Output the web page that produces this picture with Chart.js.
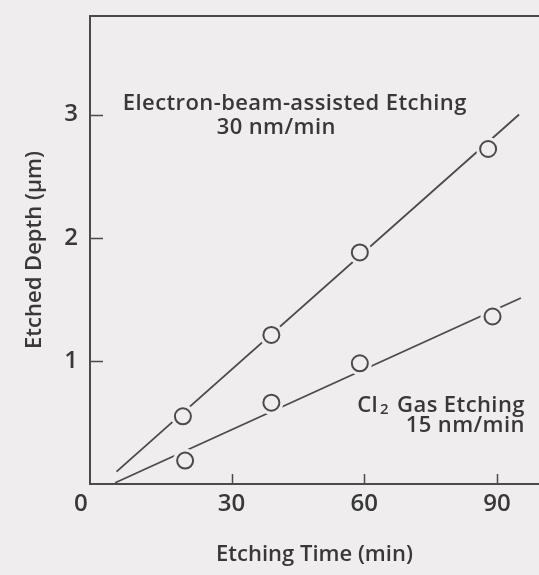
<!DOCTYPE html>
<html>
<head>
<meta charset="utf-8">
<script src="https://cdn.jsdelivr.net/npm/chart.js@4"></script>
<style>
  html, body { margin: 0; padding: 0; background: #efeded; }
  #wrap { width: 539px; height: 575px; }
</style>
</head>
<body>
<div id="wrap"><canvas id="etchChart" width="539" height="575"></canvas></div>
<script>
// Etched depth vs etching time — e-beam-assisted vs plain Cl2 gas etching

const ebeamTime  = [19, 39, 59, 88];
const ebeamDepth = [0.55, 1.21, 1.88, 2.72];
const cl2Time    = [19.5, 39, 59, 89];
const cl2Depth   = [0.19, 0.66, 0.98, 1.36];

// fitted lines, as drawn (end points)
const ebeamFitTime  = [4, 95];
const ebeamFitDepth = [0.1, 3.0];
const cl2FitTime    = [3.7, 95.4];
const cl2FitDepth   = [0.01, 1.51];

const xTicks = [30, 60, 90];
const yTicks = [1, 2, 3];

const ebeamLabel = ["Electron-beam-assisted Etching", "30 nm/min"];
const cl2Label   = ["Cl", "2", " Gas Etching", "15 nm/min"];

const BG = "#efeded";
const INK = "#4a4a4a";
const TEXT = "#383838";
const FONT = "'Open Sans', sans-serif";

const pts = (xs, ys) => xs.map((x, i) => ({ x, y: ys[i] }));
const noPad = s => { s.paddingLeft = 0; s.paddingRight = 0; s.paddingTop = 0; s.paddingBottom = 0; };

// short tick marks pointing into the plot, the lone "0" and the two labels
const paperMarks = {
  id: "paperMarks",
  afterDatasetsDraw(chart) {
    const { ctx, chartArea: { left, bottom }, scales: { x, y } } = chart;
    ctx.save();
    ctx.strokeStyle = INK;
    ctx.lineWidth = 1.5;
    ctx.beginPath();
    yTicks.forEach(v => {
      const py = Math.round(y.getPixelForValue(v)) + 0.5;
      ctx.moveTo(left, py);
      ctx.lineTo(left + 13, py);
    });
    xTicks.forEach(v => {
      const px = Math.round(x.getPixelForValue(v)) + 0.5;
      ctx.moveTo(px, bottom);
      ctx.lineTo(px, bottom - 10);
    });
    ctx.stroke();

    ctx.fillStyle = TEXT;
    ctx.font = "600 24px " + FONT;
    ctx.textAlign = "center";
    ctx.textBaseline = "middle";
    ctx.fillText("0", x.getPixelForValue(0) - 18, y.getPixelForValue(0) + 20);

    const big = "600 22px " + FONT;
    const sub = "600 15px " + FONT;
    ctx.letterSpacing = "0.4px";
    ctx.font = big;
    ctx.textBaseline = "alphabetic";
    ctx.fillText(ebeamLabel[0], x.getPixelForValue(44.3), y.getPixelForValue(3.04));
    ctx.fillText(ebeamLabel[1], x.getPixelForValue(40.1), y.getPixelForValue(2.84));

    // Cl2 label, right aligned, with a subscript 2
    const rx = x.getPixelForValue(96.3);
    const by = y.getPixelForValue(0.587);
    ctx.textAlign = "left";
    const wCl = ctx.measureText(cl2Label[0]).width;
    const wRest = ctx.measureText(cl2Label[2]).width;
    ctx.font = sub;
    const wSub = ctx.measureText(cl2Label[1]).width;
    const gapIn = 2, gapOut = 2;
    let cx = rx - (wCl + gapIn + wSub + gapOut + wRest);
    ctx.font = big;
    ctx.fillText(cl2Label[0], cx, by);
    cx += wCl + gapIn;
    ctx.font = sub;
    ctx.fillText(cl2Label[1], cx, by + 2);
    cx += wSub + gapOut;
    ctx.font = big;
    ctx.fillText(cl2Label[2], cx, by);
    ctx.textAlign = "right";
    ctx.fillText(cl2Label[3], rx, y.getPixelForValue(0.425));
    ctx.restore();
  }
};

const ctx = document.getElementById("etchChart").getContext("2d");

new Chart(ctx, {
  type: "scatter",
  plugins: [paperMarks],
  data: {
    datasets: [
      {
        label: "E-beam markers",
        data: pts(ebeamTime, ebeamDepth),
        pointRadius: 8,
        pointBackgroundColor: "rgba(0,0,0,0)",
        pointBorderColor: INK,
        pointBorderWidth: 2,
        order: 0
      },
      {
        label: "Cl2 markers",
        data: pts(cl2Time, cl2Depth),
        pointRadius: 8,
        pointBackgroundColor: "rgba(0,0,0,0)",
        pointBorderColor: INK,
        pointBorderWidth: 2,
        order: 0
      },
      {
        // paper-coloured halo so the fit line stops short of each circle
        label: "E-beam halo",
        data: pts(ebeamTime, ebeamDepth),
        pointRadius: 12,
        pointBackgroundColor: BG,
        pointBorderWidth: 0,
        order: 1
      },
      {
        label: "Cl2 halo",
        data: pts(cl2Time, cl2Depth),
        pointRadius: 12,
        pointBackgroundColor: BG,
        pointBorderWidth: 0,
        order: 1
      },
      {
        type: "line",
        label: "E-beam fit",
        data: pts(ebeamFitTime, ebeamFitDepth),
        borderColor: INK,
        borderWidth: 1.8,
        pointRadius: 0,
        fill: false,
        order: 2
      },
      {
        type: "line",
        label: "Cl2 fit",
        data: pts(cl2FitTime, cl2FitDepth),
        borderColor: INK,
        borderWidth: 1.8,
        pointRadius: 0,
        fill: false,
        order: 2
      }
    ]
  },
  options: {
    responsive: false,
    animation: false,
    layout: { autoPadding: false, padding: { top: 16, right: 0, left: 0, bottom: 0 } },
    plugins: {
      legend: { display: false },
      tooltip: { enabled: false }
    },
    scales: {
      x: {
        type: "linear",
        position: "bottom",
        min: -2,
        max: 99.5,
        afterBuildTicks: s => { s.ticks = xTicks.map(v => ({ value: v })); },
        afterFit: s => { s.height = 91; noPad(s); },
        ticks: { color: TEXT, font: { family: FONT, size: 24, weight: "600" }, padding: 6, maxRotation: 0 },
        grid: { drawOnChartArea: false, drawTicks: false },
        border: { display: true, color: INK, width: 2 },
        title: {
          display: true,
          text: "Etching Time (min)",
          color: TEXT,
          font: { family: FONT, size: 22, weight: "600" },
          padding: { top: 0, bottom: 7 }
        }
      },
      xTop: {
        type: "linear",
        position: "top",
        min: -2,
        max: 99.5,
        afterFit: s => { s.height = 0; noPad(s); },
        ticks: { display: false },
        grid: { drawOnChartArea: false, drawTicks: false },
        border: { display: true, color: INK, width: 2 }
      },
      y: {
        min: 0,
        max: 3.8,
        afterBuildTicks: s => { s.ticks = yTicks.map(v => ({ value: v })); },
        afterFit: s => { s.width = 90; noPad(s); },
        ticks: { color: TEXT, font: { family: FONT, size: 24, weight: "600" }, padding: 12 },
        grid: { drawOnChartArea: false, drawTicks: false },
        border: { display: true, color: INK, width: 2 },
        title: {
          display: true,
          text: "Etched Depth (μm)",
          color: TEXT,
          font: { family: FONT, size: 22, weight: "600" },
          padding: { top: 22, bottom: 0 }
        }
      }
    }
  }
});
</script>
</body>
</html>
